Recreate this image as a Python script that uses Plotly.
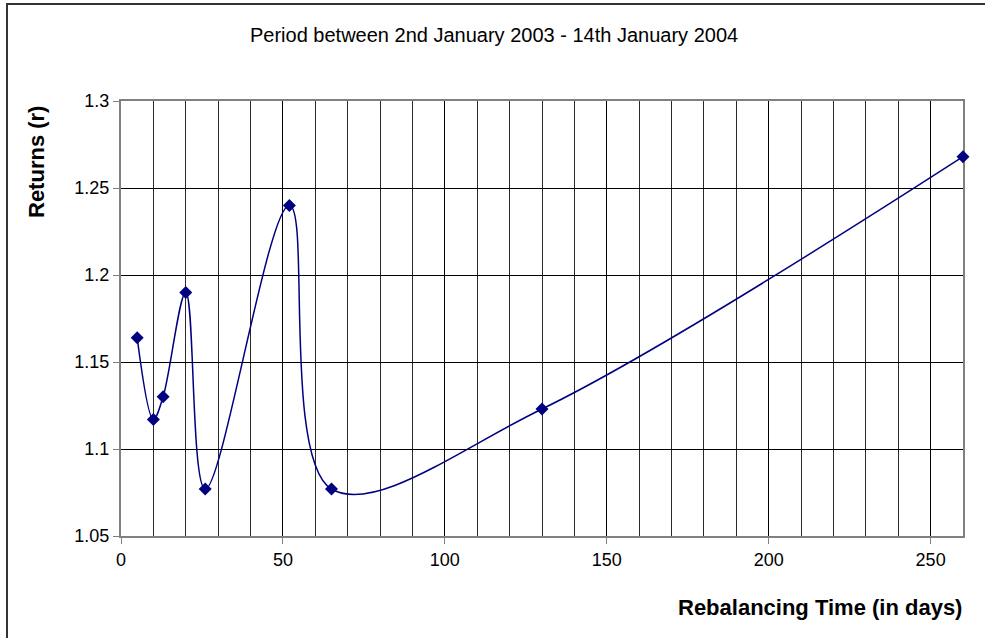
import plotly.graph_objects as go

# Rebalancing period (days) against portfolio returns
rebalance_days = [5, 10, 13, 20, 26, 52, 65, 130, 260]
returns_r = [1.164, 1.117, 1.130, 1.190, 1.077, 1.240, 1.077, 1.123, 1.268]

x_ticks = [0, 50, 100, 150, 200, 250]
y_ticks = [1.05, 1.1, 1.15, 1.2, 1.25, 1.3]
y_tick_text = ["1.05", "1.1", "1.15", "1.2", "1.25", "1.3"]

title_text = "Period between 2nd January 2003 - 14th January 2004"
x_title = "Rebalancing Time (in days)"
y_title = "Returns (r)"

W, H = 985, 638
L, R, T, B = 121, 22, 101, 102
FONT = "Liberation Sans, Arial, sans-serif"
NAVY = "#000080"

fig = go.Figure()
fig.add_trace(go.Scatter(
    x=rebalance_days,
    y=returns_r,
    mode="lines+markers",
    line=dict(color=NAVY, width=1.5, shape="spline", smoothing=1.0),
    marker=dict(symbol="diamond", size=10, color=NAVY),
    cliponaxis=False,
    showlegend=False,
    hoverinfo="x+y",
))

plot_w = W - L - R
plot_h = H - T - B


def px_to_paper_x(px):
    return (px - L) / plot_w


def px_to_paper_y(py):
    return (H - B - py) / plot_h


fig.update_layout(
    width=W,
    height=H,
    margin=dict(l=L, r=R, t=T, b=B),
    paper_bgcolor="white",
    plot_bgcolor="white",
    font=dict(family=FONT, size=18, color="black"),
    xaxis=dict(
        range=[0, 260],
        tickvals=x_ticks,
        ticks="outside",
        ticklen=6,
        tickcolor="#808080",
        tickwidth=1,
        showgrid=True,
        gridcolor="black",
        gridwidth=1,
        minor=dict(dtick=10, tick0=0, showgrid=True, gridcolor="#2a2a2a", gridwidth=1),
        showline=True,
        linecolor="#808080",
        linewidth=2,
        mirror=True,
        zeroline=False,
        layer="below traces",
        tickfont=dict(size=18),
    ),
    yaxis=dict(
        range=[1.05, 1.3],
        tickvals=y_ticks,
        ticktext=y_tick_text,
        ticks="outside",
        ticklen=6,
        tickcolor="#808080",
        tickwidth=1,
        showgrid=True,
        gridcolor="black",
        gridwidth=1,
        showline=True,
        linecolor="#808080",
        linewidth=2,
        mirror=True,
        zeroline=False,
        layer="below traces",
        tickfont=dict(size=18),
    ),
    annotations=[
        dict(text=title_text, xref="paper", yref="paper",
             x=px_to_paper_x(494), y=px_to_paper_y(35),
             xanchor="center", yanchor="middle", showarrow=False,
             font=dict(size=20)),
        dict(text="<b>" + x_title + "</b>", xref="paper", yref="paper",
             x=px_to_paper_x(964), y=px_to_paper_y(607),
             xanchor="right", yanchor="middle", showarrow=False,
             font=dict(size=22)),
        dict(text="<b>" + y_title + "</b>", xref="paper", yref="paper",
             x=px_to_paper_x(36), y=px_to_paper_y(162),
             xanchor="center", yanchor="middle", showarrow=False,
             textangle=-90, font=dict(size=22)),
    ],
    shapes=[
        # outer chart frame
        dict(type="rect", xref="paper", yref="paper",
             x0=px_to_paper_x(7), x1=px_to_paper_x(W + 20),
             y0=px_to_paper_y(H + 20), y1=px_to_paper_y(4),
             line=dict(color="#333333", width=2), layer="below"),
    ],
)

fig.write_html("out.html")
